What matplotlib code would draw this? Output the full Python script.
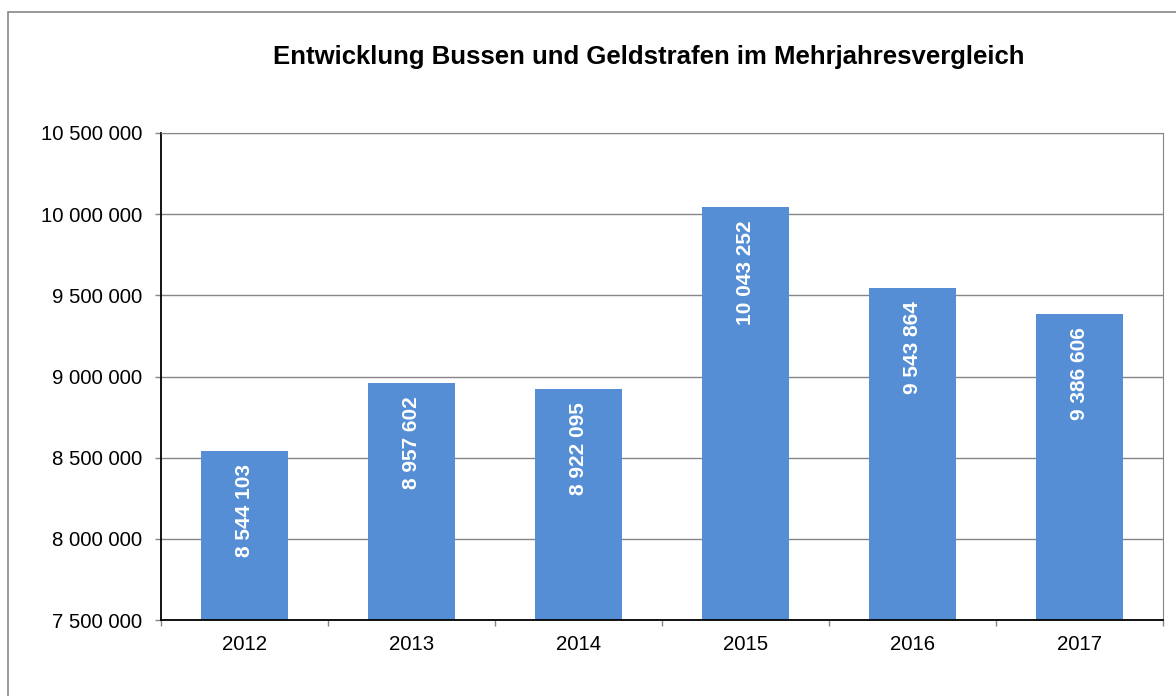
import numpy as np
import matplotlib.pyplot as plt
import matplotlib.ticker as ticker
from matplotlib.patches import Rectangle

plt.rcParams["font.family"] = ["Liberation Sans", "DejaVu Sans"]

years = ["2012", "2013", "2014", "2015", "2016", "2017"]
values = [8544103, 8957602, 8922095, 10043252, 9543864, 9386606]
yticks = [7500000, 8000000, 8500000, 9000000, 9500000, 10000000, 10500000]

BAR_COLOR = "#558ed5"
GRID_COLOR = "#868686"


def fmt(v):
    return f"{int(v):,}".replace(",", " ")


fig = plt.figure(figsize=(11.76, 6.96), dpi=100)
ax = fig.add_axes([161 / 1176, 76 / 696, 1002 / 1176, 487 / 696])

# outer chart border
fig.patches.append(Rectangle((8 / 1176, -0.05), 1.2, 1.05 - 12 / 696,
                             transform=fig.transFigure, fill=False,
                             edgecolor=GRID_COLOR, linewidth=1.2))

x = np.arange(len(years))
ax.bar(x, values, width=0.515, color=BAR_COLOR, zorder=3)

for xi, v in zip(x, values):
    ax.annotate(fmt(v), (xi, v), xytext=(0, -9.5), textcoords="offset points",
                rotation=90, ha="center", va="top", color="white",
                fontweight="bold", fontsize=15, zorder=4)

ax.set_xlim(-0.5, len(years) - 0.5)
ax.set_ylim(7500000, 10500000)
ax.set_yticks(yticks)
ax.yaxis.set_major_formatter(ticker.FuncFormatter(lambda v, p: fmt(v)))
ax.set_xticks(x)
ax.set_xticklabels(years)
ax.set_xticks(np.arange(len(years) + 1) - 0.5, minor=True)

ax.grid(axis="y", color=GRID_COLOR, linewidth=1.0, zorder=0)
ax.tick_params(axis="y", which="major", length=4.5, width=1, color=GRID_COLOR,
               labelsize=14.7, pad=9)
ax.tick_params(axis="x", which="major", length=0, labelsize=14.7, pad=11)
ax.tick_params(axis="x", which="minor", length=4.5, width=1, color=GRID_COLOR)

ax.spines["left"].set_color("black")
ax.spines["bottom"].set_color("black")
ax.spines["left"].set_linewidth(1.3)
ax.spines["bottom"].set_linewidth(1.3)
ax.spines["top"].set_color(GRID_COLOR)
ax.spines["right"].set_color(GRID_COLOR)
ax.spines["bottom"].set_zorder(5)

fig.text(649 / 1176, 1 - 57 / 696,
         "Entwicklung Bussen und Geldstrafen im Mehrjahresvergleich",
         ha="center", va="center", fontsize=18.5, fontweight="bold")

fig.savefig("out.png", dpi=100)
